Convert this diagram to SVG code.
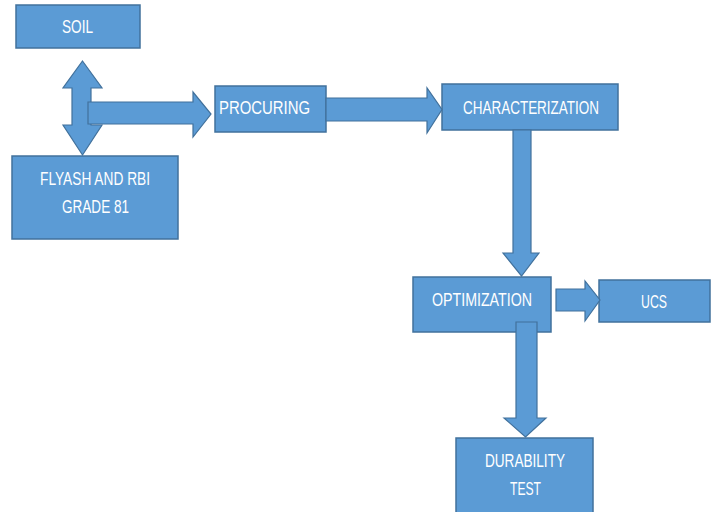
<svg xmlns="http://www.w3.org/2000/svg" width="715" height="512" viewBox="0 0 715 512">
<style>
.box{fill:#5B9BD5;stroke:#41719C;stroke-width:1.5}
.arr{fill:#5B9BD5;stroke:#41719C;stroke-width:1.2;stroke-linejoin:miter}
.t{fill:#FFFFFF;font-family:"Liberation Sans Narrow","Liberation Sans",Arial,sans-serif;font-size:18px;text-anchor:middle}
</style>
<rect width="715" height="512" fill="#FFFFFF"/>
<g id="soil"><rect class="box" x="16" y="5" width="124" height="43"/><text class="t" x="77.5" y="33" textLength="31" lengthAdjust="spacingAndGlyphs">SOIL</text></g>
<g id="flyash"><rect class="box" x="12" y="156" width="166" height="83"/><text class="t" x="95" y="185" textLength="110" lengthAdjust="spacingAndGlyphs">FLYASH AND RBI</text><text class="t" x="95.5" y="213" textLength="67" lengthAdjust="spacingAndGlyphs">GRADE 81</text></g>
<g id="procuring"><rect class="box" x="215" y="86" width="111" height="46"/><text class="t" x="264.5" y="114" textLength="91" lengthAdjust="spacingAndGlyphs">PROCURING</text></g>
<g id="characterization"><rect class="box" x="442" y="84" width="176" height="46"/><text class="t" x="531" y="114" textLength="136" lengthAdjust="spacingAndGlyphs">CHARACTERIZATION</text></g>
<g id="optimization"><rect class="box" x="413" y="277" width="138" height="55"/><text class="t" x="482" y="306" textLength="100" lengthAdjust="spacingAndGlyphs">OPTIMIZATION</text></g>
<g id="ucs"><rect class="box" x="599" y="280" width="111" height="42"/><text class="t" x="654" y="308" textLength="26" lengthAdjust="spacingAndGlyphs">UCS</text></g>
<g id="durability"><rect class="box" x="456" y="438" width="137" height="80"/><text class="t" x="525" y="467" textLength="80" lengthAdjust="spacingAndGlyphs">DURABILITY</text><text class="t" x="525.5" y="495" textLength="31" lengthAdjust="spacingAndGlyphs">TEST</text></g>
<g id="connectors">
<polygon class="arr" points="82.5,61 102,88 91,88 91,125 102,125 82.5,155 63,125 72,125 72,88 63,88"/>
<polygon class="arr" points="88,102 193,102 193,92 211,114 193,137 193,124 88,124"/>
<polygon class="arr" points="326,98 427,98 427,88 442,109.5 427,133 427,121 326,121"/>
<polygon class="arr" points="513,130 531,130 531,253 539,253 521.5,276 503,253 513,253"/>
<polygon class="arr" points="556,289 585,289 585,281 600,300 585,321 585,311 556,311"/>
<polygon class="arr" points="516,322 537,322 537,418 546,418 525.5,437 504,418 516,418"/>
</g>
</svg>
